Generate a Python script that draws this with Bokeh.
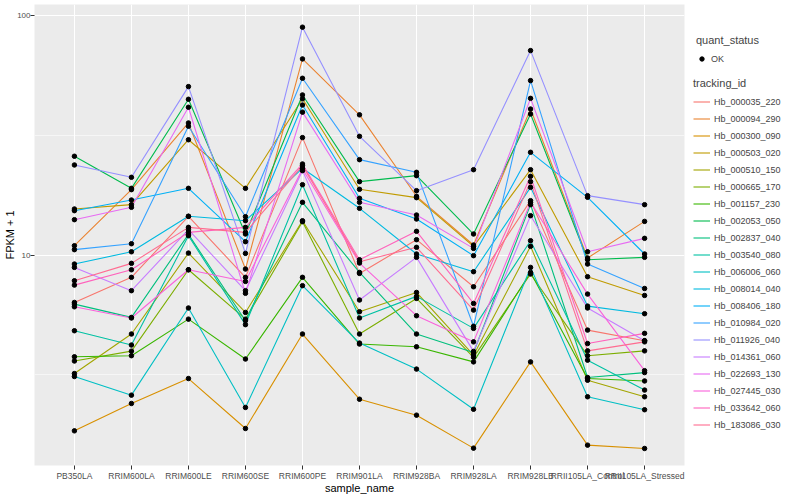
from bokeh.plotting import figure
from bokeh.models import FactorRange, Range1d, FixedTicker, PrintfTickFormatter, Legend, LegendItem
from bokeh.layouts import row
from bokeh.embed import file_html
from bokeh.resources import INLINE

samples = ["PB350LA", "RRIM600LA", "RRIM600LE", "RRIM600SE", "RRIM600PE", "RRIM901LA",
           "RRIM928BA", "RRIM928LA", "RRIM928LB", "RRII105LA_Control", "RRII105LA_Stressed"]

tracking_ids = ["Hb_000035_220", "Hb_000094_290", "Hb_000300_090", "Hb_000503_020",
                "Hb_000510_150", "Hb_000665_170", "Hb_001157_230", "Hb_002053_050",
                "Hb_002837_040", "Hb_003540_080", "Hb_006006_060", "Hb_008014_040",
                "Hb_008406_180", "Hb_010984_020", "Hb_011926_040", "Hb_014361_060",
                "Hb_022693_130", "Hb_027445_030", "Hb_033642_060", "Hb_183086_030"]

hb_000035_220 = [6.34, 8.07, 14.51, 8.07, 30.93, 8.38, 11.59, 7.37, 16.87, 4.86, 4.39]
hb_000094_290 = [10.94, 18.75, 35.6, 8.74, 65.9, 38.5, 17.59, 11.01, 40.7, 9.72, 13.82]
hb_000300_090 = [1.845, 2.40, 3.05, 1.887, 4.68, 2.50, 2.145, 1.562, 3.58, 1.608, 1.557]
hb_000503_020 = [15.57, 16.23, 30.3, 18.99, 44.9, 18.81, 17.36, 10.87, 22.72, 8.12, 6.78]
hb_000510_150 = [3.20, 4.68, 10.19, 5.76, 13.91, 5.80, 6.98, 3.82, 10.87, 3.00, 2.56]
hb_000665_170 = [3.61, 3.97, 8.68, 5.40, 13.78, 4.68, 6.59, 3.74, 8.33, 3.80, 3.98]
hb_001157_230 = [3.76, 3.80, 5.40, 3.68, 8.07, 4.25, 4.14, 3.58, 8.46, 3.05, 2.98]
hb_002053_050 = [25.85, 18.99, 44.7, 12.24, 46.6, 20.25, 21.45, 12.24, 38.8, 9.56, 9.78]
hb_002837_040 = [6.24, 5.49, 12.20, 5.32, 16.60, 8.46, 4.68, 3.92, 16.23, 3.08, 3.23]
hb_003540_080 = [4.83, 4.21, 12.04, 5.12, 19.67, 5.46, 6.72, 4.94, 11.48, 3.64, 2.73]
hb_006006_060 = [3.11, 2.60, 6.01, 2.31, 7.45, 4.29, 3.34, 2.27, 8.88, 2.56, 2.26]
hb_008014_040 = [9.17, 10.32, 14.51, 13.91, 23.02, 15.67, 10.10, 8.52, 19.17, 6.12, 5.69]
hb_008406_180 = [15.32, 16.97, 18.99, 11.37, 42.3, 17.25, 14.14, 9.94, 26.85, 17.42, 10.10]
hb_010984_020 = [10.53, 11.15, 34.5, 14.46, 54.7, 25.02, 22.15, 5.04, 53.5, 9.17, 7.25]
hb_011926_040 = [23.77, 21.11, 50.5, 10.16, 89.4, 31.3, 18.57, 22.72, 71.4, 17.70, 16.23]
hb_014361_060 = [8.88, 7.10, 12.76, 7.10, 22.51, 6.49, 9.78, 3.96, 14.60, 6.01, 4.39]
hb_022693_130 = [14.05, 15.82, 41.4, 6.92, 39.5, 16.60, 14.69, 10.66, 45.1, 10.32, 11.74]
hb_027445_030 = [6.08, 5.46, 8.68, 7.76, 22.87, 9.26, 5.58, 4.34, 16.60, 6.87, 3.29]
hb_033642_060 = [7.49, 8.68, 12.43, 13.05, 24.0, 9.56, 12.56, 6.28, 21.31, 4.27, 4.71]
hb_183086_030 = [7.81, 9.23, 13.05, 12.43, 23.62, 9.38, 10.77, 5.89, 20.25, 3.98, 4.34]

series = [hb_000035_220, hb_000094_290, hb_000300_090, hb_000503_020, hb_000510_150,
          hb_000665_170, hb_001157_230, hb_002053_050, hb_002837_040, hb_003540_080,
          hb_006006_060, hb_008014_040, hb_008406_180, hb_010984_020, hb_011926_040,
          hb_014361_060, hb_022693_130, hb_027445_030, hb_033642_060, hb_183086_030]

colors = ["#F8766D", "#EA8331", "#D89000", "#C09B00", "#A3A500", "#7CAE00", "#39B600",
          "#00BB4E", "#00BF7D", "#00C1A3", "#00BFC4", "#00BAE0", "#00B0F6", "#35A2FF",
          "#9590FF", "#C77CFF", "#E76BF3", "#FA62DB", "#FF62BC", "#FF6C91"]

FONT = "Liberation Sans"
TOTAL_H = 496
FRAME_BOTTOM = 464  # approx. pixel row of the frame bottom (frames are aligned in the row)

p = figure(x_range=FactorRange(factors=samples, range_padding=0.2, range_padding_units="absolute"),
           y_range=Range1d(1.322, 111.2), y_axis_type="log", title=None,
           width=689, height=TOTAL_H,
           min_border_top=4, min_border_right=5, min_border_left=34, min_border_bottom=24,
           output_backend="svg", toolbar_location=None,
           background_fill_color="#EBEBEB", border_fill_color="white")
p.outline_line_color = None

p.xgrid.grid_line_color = "white"
p.xgrid.grid_line_width = 1.1
p.ygrid.grid_line_color = "white"
p.ygrid.grid_line_width = 1.1
p.ygrid.minor_grid_line_color = "white"
p.ygrid.minor_grid_line_width = 0.55

p.yaxis.ticker = FixedTicker(ticks=[10, 100], minor_ticks=[3.16227766, 31.6227766])
p.yaxis.formatter = PrintfTickFormatter(format="%d")

for ax in (p.xaxis[0], p.yaxis[0]):
    ax.axis_line_color = None
    ax.major_tick_line_color = "#333333"
    ax.major_tick_out = 4
    ax.major_tick_in = 0
    ax.minor_tick_line_color = None
    ax.major_label_text_font = FONT
    ax.major_label_text_font_size = "8.5px"
    ax.major_label_text_color = "#4D4D4D"
    ax.major_label_standoff = 1
    ax.axis_label_text_font = FONT
    ax.axis_label_text_font_size = "11px"
    ax.axis_label_text_font_style = "normal"
    ax.axis_label_text_color = "black"
    ax.axis_label_standoff = -2

p.yaxis.major_label_standoff = 0
p.yaxis.major_label_text_font_size = "8px"

p.xaxis.axis_label = "sample_name"
p.yaxis.axis_label = "FPKM + 1"

for vals, col in zip(series, colors):
    p.line(x=samples, y=vals, line_color=col, line_width=1.1)

xs = []
ys = []
for vals in series:
    xs.extend(samples)
    ys.extend(vals)
p.scatter(x=xs, y=ys, size=4.5, color="black", marker="circle")

# legend panel as its own small figure
lf = figure(width=105, height=TOTAL_H, x_range=Range1d(0, 1), y_range=Range1d(0, 1),
            min_border=0, output_backend="svg", toolbar_location=None, title=None,
            border_fill_color="white", background_fill_color="white")
lf.outline_line_color = None
lf.axis.visible = False
lf.grid.visible = False

leg_lines = [lf.line(x=[-5, -4], y=[-5, -5], line_color=col, line_width=1.1) for col in colors]
leg_pt = lf.scatter(x=[-5], y=[-5], size=4.5, color="black", marker="circle")


def style_legend(leg, glyph=17):
    leg.title_text_font = FONT
    leg.title_text_font_size = "11px"
    leg.title_text_font_style = "normal"
    leg.title_standoff = 4
    leg.label_text_font = FONT
    leg.label_text_font_size = "9px"
    leg.glyph_width = glyph
    leg.glyph_height = glyph
    leg.label_height = 17
    leg.spacing = 0
    leg.padding = 0
    leg.margin = 0
    leg.label_standoff = 4
    leg.border_line_color = None
    leg.background_fill_alpha = 0


leg1 = Legend(items=[LegendItem(label="OK", renderers=[leg_pt])], title="quant_status",
              location=(7, FRAME_BOTTOM - 66))
style_legend(leg1, glyph=11)
leg2 = Legend(items=[LegendItem(label=t, renderers=[r]) for t, r in zip(tracking_ids, leg_lines)],
              title="tracking_id", location=(4, FRAME_BOTTOM - 432))
style_legend(leg2)
lf.add_layout(leg1)
lf.add_layout(leg2)

layout = row(p, lf)
open("out.html", "w").write(file_html(layout, INLINE))
